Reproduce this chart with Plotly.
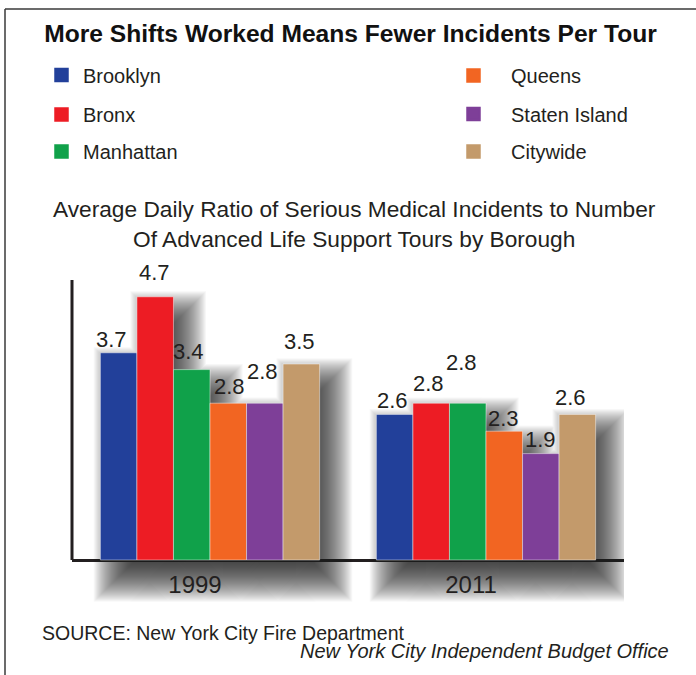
import plotly.graph_objects as go

# ---------------- data ----------------
years = ["1999", "2011"]
boroughs = ["Brooklyn", "Bronx", "Manhattan", "Queens", "Staten Island", "Citywide"]
brooklyn = [3.7, 2.6]
bronx = [4.7, 2.8]
manhattan = [3.4, 2.8]
queens = [2.8, 2.3]
staten_island = [2.8, 1.9]
citywide = [3.5, 2.6]
series_values = [brooklyn, bronx, manhattan, queens, staten_island, citywide]

# ---------------- styles ----------------
colors = ["#22409A", "#ED1C24", "#10A14A", "#F26522", "#7E3F98", "#C39A6B"]
TEXT = "#231F20"
FONT = "Liberation Sans, Arial, sans-serif"

# value label offsets in px (dx, dy above bar top), per series per year
label_dx = [[-7, -2.5], [-1, -3], [-3.5, -6], [1.5, -1], [-2, -0.5], [-2, -7]]
label_dy = [[13, 14], [24, 20], [18, 41], [17, 13], [32, 14], [23, 17]]

W, H = 696, 675
ML, MR, MT, MB = 72, 72, 280, 59
PW, PH = W - ML - MR, H - MT - MB
XR = [-0.5, 1.5]
YR = [-1.0, 5.0]
PX_X = PW / (XR[1] - XR[0])
PX_Y = PH / (YR[1] - YR[0])
BAR_W = 0.1324
N = len(boroughs)


def px2paper_x(px):
    return (px - ML) / PW


def px2paper_y(py):
    return (H - MB - py) / PH


def bar_x(i, j):
    return j + (i - (N - 1) / 2) * BAR_W


fig = go.Figure()

# ---------------- soft drop shadow: stacked eroded/dilated copies of the bar skyline ----------------
SH_DX, SH_DY_TOP, SH_DY_BOT = 13, 14, 22
SH_S, SH_K, SH_A = 20, 40, 0.031
for k in range(SH_K):
    s = -SH_S + 2 * SH_S * (k + 0.5) / SH_K
    xs, ws, ys, bases = [], [], [], []
    for j in range(len(years)):
        for i in range(N):
            v = series_values[i][j]
            c = bar_x(i, j) + SH_DX / PX_X
            L, R = c - BAR_W / 2, c + BAR_W / 2
            if s >= 0:
                L -= s / PX_X
                R += s / PX_X
            else:
                e = -s / PX_X
                ln = series_values[i - 1][j] if i > 0 else None
                rn = series_values[i + 1][j] if i < N - 1 else None
                L += -e if (ln is not None and ln >= v) else e
                R += e if (rn is not None and rn >= v) else -e
            top = v - SH_DY_TOP / PX_Y + s / PX_Y
            base = -SH_DY_BOT / PX_Y - s / PX_Y
            if R <= L or top <= base:
                continue
            xs.append((L + R) / 2)
            ws.append(R - L)
            ys.append(top - base)
            bases.append(base)
    fig.add_trace(go.Bar(x=xs, y=ys, base=bases, width=ws,
                         marker=dict(color="#1c1c1c", line=dict(width=0)),
                         opacity=SH_A, showlegend=False, hoverinfo="skip"))

# ---------------- bars ----------------
for i, (name, vals) in enumerate(zip(boroughs, series_values)):
    fig.add_trace(go.Bar(
        x=[bar_x(i, j) for j in range(len(years))], y=vals, width=BAR_W,
        name=name, showlegend=False,
        marker=dict(color=colors[i], line=dict(width=1, color="rgba(255,255,255,0.45)")),
        hoverinfo="skip"))

# legend entries (swatch only)
for i, name in enumerate(boroughs):
    fig.add_trace(go.Bar(
        x=[None], y=[None], name=name,
        legend="legend" if i == 0 else f"legend{i + 1}",
        marker=dict(color=colors[i], line=dict(width=2.5, color=colors[i])),
        hoverinfo="skip"))

# ---------------- value labels ----------------
annotations = []
for i, vals in enumerate(series_values):
    for j, v in enumerate(vals):
        annotations.append(dict(x=bar_x(i, j), y=v, xref="x", yref="y",
                                text=f"{v:.1f}", showarrow=False,
                                xanchor="center", yanchor="middle",
                                xshift=label_dx[i][j], yshift=label_dy[i][j],
                                font=dict(family=FONT, size=22, color=TEXT)))

# subtitle
annotations.append(dict(
    text="Average Daily Ratio of Serious Medical Incidents to Number<br>Of Advanced Life Support Tours by Borough",
    x=px2paper_x(355), y=px2paper_y(223.5), xref="paper", yref="paper",
    xanchor="center", yanchor="middle", showarrow=False,
    font=dict(family=FONT, size=22.7, color=TEXT)))
# source
annotations.append(dict(
    text="SOURCE: New York City Fire Department",
    x=px2paper_x(40), y=px2paper_y(633), xref="paper", yref="paper",
    xanchor="left", yanchor="middle", showarrow=False,
    font=dict(family=FONT, size=19.5, color=TEXT)))
annotations.append(dict(
    text="<i>New York City Independent Budget Office</i>",
    x=px2paper_x(671), y=px2paper_y(651), xref="paper", yref="paper",
    xanchor="right", yanchor="middle", showarrow=False,
    font=dict(family=FONT, size=20, color=TEXT)))

# ---------------- legends (two columns) ----------------
legend_pos = [  # (swatch center x, center y, text start x)
    (61.5, 75, 83), (61.5, 114.5, 83), (61.5, 151.5, 83),
    (473.5, 75.5, 511), (473.5, 114, 511), (473.5, 151.5, 511),
]
legends = {}
for i, (cx, cy, tx) in enumerate(legend_pos):
    itemwidth = max(30, 2 * (tx - cx) - 10)
    origin = tx - (itemwidth + 10)
    key = "legend" if i == 0 else f"legend{i + 1}"
    legends[key] = dict(x=px2paper_x(origin), y=px2paper_y(cy), xref="paper", yref="paper",
                        xanchor="left", yanchor="middle", itemwidth=itemwidth,
                        bgcolor="rgba(0,0,0,0)", borderwidth=0,
                        font=dict(family=FONT, size=20, color=TEXT))

# ---------------- frame & left axis ----------------
shapes = [
    dict(type="line", xref="paper", yref="y", x0=0, x1=0, y0=0, y1=YR[1],
         line=dict(color=TEXT, width=3)),
    dict(type="line", xref="paper", yref="paper", x0=px2paper_x(5), x1=px2paper_x(W),
         y0=px2paper_y(9), y1=px2paper_y(9), line=dict(color="#3a3a3a", width=1.5)),
    dict(type="line", xref="paper", yref="paper", x0=px2paper_x(5), x1=px2paper_x(5),
         y0=px2paper_y(9), y1=px2paper_y(H), line=dict(color="#3a3a3a", width=1.5)),
]

fig.update_layout(
    width=W, height=H,
    margin=dict(l=ML, r=MR, t=MT, b=MB, autoexpand=False),
    paper_bgcolor="white", plot_bgcolor="white",
    barmode="overlay",
    title=dict(text="More Shifts Worked Means Fewer Incidents Per Tour",
               x=350.5 / W, xref="container", xanchor="center",
               y=1 - 33.5 / H, yref="container", yanchor="middle",
               font=dict(family=FONT, size=24.6, color="#111111", weight="bold")),
    xaxis=dict(range=XR, tickvals=list(range(len(years))), ticktext=years,
               anchor="free", position=(0 - YR[0]) / (YR[1] - YR[0]),
               showgrid=False, zeroline=False, showline=False, ticks="",
               ticklabelstandoff=8, ticklabelshift=-15,
               tickfont=dict(family=FONT, size=24, color=TEXT), fixedrange=True),
    yaxis=dict(range=YR, showgrid=False, showticklabels=False, ticks="",
               zeroline=True, zerolinewidth=3, zerolinecolor=TEXT, showline=False,
               fixedrange=True),
    annotations=annotations, shapes=shapes,
    **legends,
)

fig.write_html("out.html", config={"displayModeBar": False},
               post_script="document.body.style.margin='0';document.body.style.overflow='hidden';")
